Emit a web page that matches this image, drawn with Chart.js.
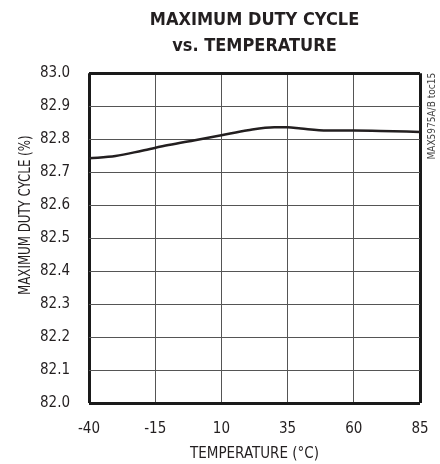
<!DOCTYPE html>
<html>
<head>
<meta charset="utf-8">
<script src="https://cdn.jsdelivr.net/npm/chart.js@4"></script>
<style>
html,body{margin:0;padding:0;background:#fff}
#wrap{width:440px;height:464px}
</style>
</head>
<body>
<div id="wrap"><canvas id="c" width="440" height="464"></canvas></div>
<script>
'use strict';
const temps=[-40,-30,-20,-10,0,10,20,30,35,40,50,60,70,85];
const duty=[82.742,82.749,82.765,82.782,82.797,82.812,82.827,82.836,82.836,82.832,82.826,82.826,82.825,82.822];
const yMin=82,yMax=83,yStep=0.1;
const xMin=-40,xMax=85,xStep=25;
const FONT='"Liberation Sans Narrow","DejaVu Sans Condensed","Liberation Sans",sans-serif';
const INK='#231f20';

// rotated side labels: y-axis title (sits a bit above centre) and the figure tag
const sideText={id:'sideText',afterDraw(ch){
  const c=ch.ctx,a=ch.chartArea;
  c.save();c.translate(a.left-63,a.top+142);c.rotate(-Math.PI/2);c.scale(0.82,1);
  c.font='16px '+FONT;c.fillStyle=INK;c.textAlign='center';c.textBaseline='middle';
  c.fillText('MAXIMUM DUTY CYCLE (%)',0,0);c.restore();
  c.save();c.translate(a.right+12,a.top+43);c.rotate(-Math.PI/2);
  c.font='10px '+FONT;c.fillStyle='#444';c.textAlign='center';c.textBaseline='middle';
  c.fillText('MAX5975A/B toc15',0,0);c.restore();
}};

const isEdge=(n,ctx)=>ctx.index===0||ctx.index===n;

new Chart(document.getElementById('c'),{
  type:'line',
  data:{datasets:[{data:temps.map((t,i)=>({x:t,y:duty[i]})),borderColor:INK,borderWidth:2.5,pointRadius:0,cubicInterpolationMode:'monotone'}]},
  options:{
    responsive:false,animation:false,
    layout:{padding:{right:20,top:2}},
    plugins:{legend:{display:false},tooltip:{enabled:false},
      title:{display:true,fullSize:false,text:['MAXIMUM DUTY CYCLE','vs. TEMPERATURE'],color:INK,
        font:{family:FONT,size:18,weight:'bold',lineHeight:1.45},padding:{top:5,bottom:14}}},
    scales:{
      x:{type:'linear',min:xMin,max:xMax,
        ticks:{stepSize:xStep,color:INK,font:{family:FONT,size:15},padding:17},
        grid:{color:ctx=>isEdge(5,ctx)?'#1a1a1a':'#555',lineWidth:ctx=>isEdge(5,ctx)?3:1,drawTicks:false},border:{display:false},
        title:{display:true,text:'TEMPERATURE (°C)',color:INK,font:{family:FONT,size:15},padding:{top:2,bottom:1}},
        afterFit(s){s.height=61;s.paddingLeft=0;s.paddingRight=0;}},
      y:{min:yMin,max:yMax,
        ticks:{stepSize:yStep,color:INK,font:{family:FONT,size:15},padding:19,callback:v=>v.toFixed(1)},
        grid:{color:ctx=>isEdge(10,ctx)?'#1a1a1a':'#555',lineWidth:ctx=>isEdge(10,ctx)?3:1,drawTicks:false},border:{display:false},
        afterFit(s){s.width=89;}}
    }
  },
  plugins:[sideText]
});
</script>
</body>
</html>
